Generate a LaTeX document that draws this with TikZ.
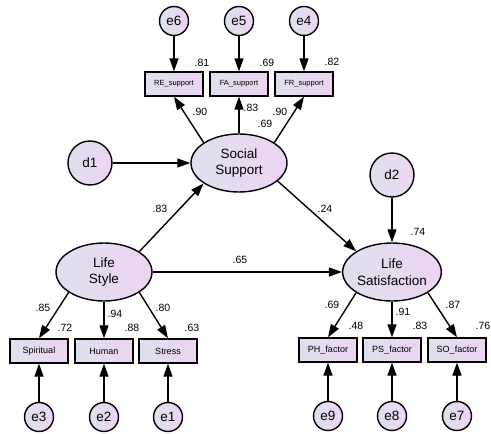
\documentclass[tikz,border=0pt]{standalone}
\usepackage{fontspec}
\setmainfont{Liberation Sans}
\usetikzlibrary{positioning, shapes.geometric, arrows.meta}

\definecolor{semleft}{RGB}{222,224,238}
\definecolor{semright}{RGB}{238,212,242}

\begin{document}
\begin{tikzpicture}[x=1pt, y=-1pt, >={Triangle[length=13pt,width=9pt]}, line width=1.4pt, on grid, node distance=65pt]
    \tikzstyle{latent}=[ellipse, draw, left color=semleft, right color=semright, minimum width=96pt, minimum height=58pt, inner sep=0pt, align=center, font=\fontsize{13.5}{16.5}\selectfont]
    \tikzstyle{err}=[circle, draw, left color=semleft, right color=semright, minimum size=29pt, inner sep=0pt, font=\fontsize{13.5}{16}\selectfont]
    \tikzstyle{dist}=[err, minimum size=44pt]
    \tikzstyle{obs}=[rectangle, draw, left color=semleft, right color=semright, minimum width=58pt, minimum height=24pt, inner sep=1pt, font=\fontsize{9}{10}\selectfont]
    \tikzstyle{indic}=[obs, font=\fontsize{7.5}{9}\selectfont]
    \tikzstyle{coef}=[inner sep=0pt, font=\fontsize{10.5}{12}\selectfont]

    \useasboundingbox (0,0) rectangle (491,434);

    % latent variables
    \node[latent] (ss)   at (239,163) {Social\\Support};
    \node[latent] (ls)   at (104,272) {Life\\Style};
    \node[latent] (lsat) at (392,272) {Life\\Satisfaction};

    % disturbances
    \node[dist] (d1) [left=149pt of ss] {d1};
    \node[dist] (d2) [above=97pt of lsat] {d2};

    % social support indicators
    \node[indic] (fa) [above=79pt of ss] {FA\_support};
    \node[indic] (re) [left=of fa] {RE\_support};
    \node[indic] (fr) [right=of fa] {FR\_support};
    \node[err]   (e6) [above=63pt of re] {e6};
    \node[err]   (e5) [above=63pt of fa] {e5};
    \node[err]   (e4) [above=63pt of fr] {e4};

    % life style indicators
    \node[obs] (hum)  [below=79pt of ls] {Human};
    \node[obs] (spi)  [left=65pt of hum] {Spiritual};
    \node[obs] (stre) [right=64pt of hum] {Stress};
    \node[err] (e3) [below=66pt of spi] {e3};
    \node[err] (e2) [below=66pt of hum] {e2};
    \node[err] (e1) [below=66pt of stre] {e1};

    % life satisfaction indicators
    \node[obs] (psf) [below=78pt of lsat] {PS\_factor};
    \node[obs] (phf) [left=64pt of psf] {PH\_factor};
    \node[obs] (sof) [right=of psf] {SO\_factor};
    \node[err] (e9) [below=66pt of phf] {e9};
    \node[err] (e8) [below=66pt of psf] {e8};
    \node[err] (e7) [below=66pt of sof] {e7};

    \path[->]
    (e6) edge (re)
    (e5) edge (fa)
    (e4) edge (fr)
    (ss.150) edge (re.south)
    (ss) edge (fa)
    (ss.30) edge (fr.south)
    (d1) edge (ss)
    (ls.30) edge (ss.210)
    (ss.-25) edge (lsat.150)
    (ls) edge (lsat)
    (d2) edge (lsat)
    (ls.210) edge (spi.north)
    (ls) edge (hum)
    (ls.330) edge (stre.north)
    (lsat.210) edge (phf.north)
    (lsat) edge (psf)
    (lsat.330) edge (sof.north)
    (e3) edge (spi)
    (e2) edge (hum)
    (e1) edge (stre)
    (e9) edge (phf)
    (e8) edge (psf)
    (e7) edge (sof);

    % estimates
    \node[coef] (r81) at (202,63) {.81};
    \node[coef] (r69) at (267,63) {.69};
    \node[coef] (r82) at (332,62) {.82};
    \node[coef] (l90a) at (200,112) {.90};
    \node[coef] (l83a) at (251,108) {.83};
    \node[coef] (r69b) at (265,124) {.69};
    \node[coef] (l90b) at (280,112) {.90};
    \node[coef] (p83) at (160,209) {.83};
    \node[coef] (p24) at (325,209) {.24};
    \node[coef] (p65) at (240,260) {.65};
    \node[coef] (r74) at (418,232) {.74};
    \node[coef] (l85) at (43,308) {.85};
    \node[coef] (r72) at (65,328) {.72};
    \node[coef] (l94) at (115,314) {.94};
    \node[coef] (r88) at (132,328) {.88};
    \node[coef] (l80) at (163,308) {.80};
    \node[coef] (r63) at (192,328) {.63};
    \node[coef] (l69) at (332,305) {.69};
    \node[coef] (r48) at (356,326) {.48};
    \node[coef] (l91) at (403,312) {.91};
    \node[coef] (r83) at (420,326) {.83};
    \node[coef] (l87) at (453,305) {.87};
    \node[coef] (r76) at (483,326) {.76};
\end{tikzpicture}
\end{document}
